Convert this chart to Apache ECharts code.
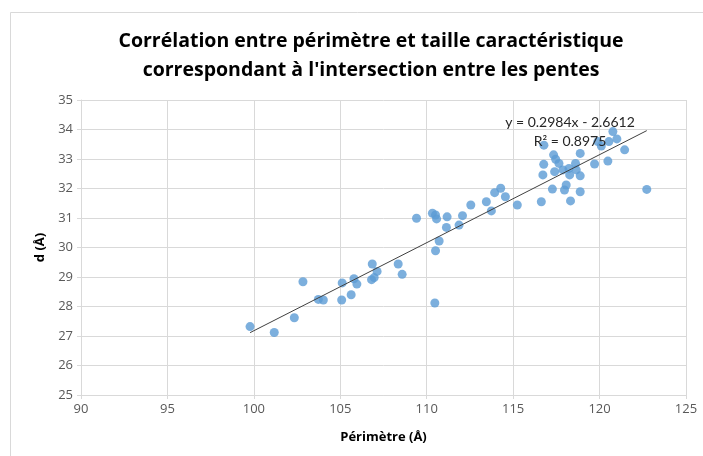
<!DOCTYPE html>
<html>
<head>
<meta charset="utf-8">
<script src="https://cdn.jsdelivr.net/npm/echarts@6/dist/echarts.min.js"></script>
<style>
  html, body { margin: 0; padding: 0; background: #ffffff; }
  #chart { width: 703px; height: 456px; }
</style>
</head>
<body>
<div id="chart"></div>
<script>
// Périmètre (Å) of each sample
const perimetre = [
  99.78, 101.18, 102.34, 102.84, 103.73, 104.02, 105.08, 105.11, 105.63, 105.79,
  105.96, 106.85, 106.81, 106.96, 107.13, 108.35, 108.58, 109.41, 110.33, 110.51,
  110.57, 111.18, 111.14, 110.72, 110.51, 110.47, 111.87, 112.07, 112.55, 113.45,
  113.74, 113.93, 114.28, 114.55, 115.24, 116.63, 116.78, 116.77, 116.72, 117.27,
  117.34, 117.46, 117.65, 117.40, 117.88, 118.23, 118.27, 118.07, 117.97, 118.32,
  118.61, 118.65, 118.88, 118.88, 118.88, 119.71, 119.90, 120.10, 120.54, 120.48,
  120.77, 121.00, 121.45, 122.73
];
// Taille caractéristique d (Å)
const taille = [
  27.32, 27.12, 27.62, 28.84, 28.24, 28.22, 28.22, 28.80, 28.40, 28.94,
  28.76, 29.44, 28.91, 28.98, 29.19, 29.44, 29.09, 30.99, 31.16, 31.10,
  30.97, 31.04, 30.68, 30.22, 29.89, 28.12, 30.76, 31.08, 31.44, 31.55,
  31.24, 31.86, 32.01, 31.72, 31.44, 31.55, 33.47, 32.82, 32.46, 31.98,
  33.14, 32.99, 32.85, 32.57, 32.63, 32.68, 32.46, 32.12, 31.95, 31.58,
  32.85, 32.63, 33.19, 32.43, 31.89, 32.83, 33.59, 33.44, 33.59, 32.93,
  33.93, 33.68, 33.31, 31.97
];
// Linear trendline: d = pente * P + origine
const pente = 0.2984;
const origine = -2.6612;
const r2 = 0.8975;
// Axis ranges and tick steps
const xTicks = { min: 90, max: 125, step: 5 };
const yTicks = { min: 25, max: 35, step: 1 };

const points = perimetre.map((p, i) => [p, taille[i]]);
const pMin = Math.min(...perimetre);
const pMax = Math.max(...perimetre);
const trend = [pMin, pMax].map(p => [p, pente * p + origine]);

const labelFont = "'Open Sans', 'Liberation Sans', sans-serif";
const eqFont = "Lato, 'Open Sans', sans-serif";
const equation = 'y = ' + pente.toFixed(4) + 'x - ' + Math.abs(origine).toFixed(4);
const r2Text = 'R² = ' + r2.toFixed(4);

const chart = echarts.init(document.getElementById('chart'));
chart.setOption({
  backgroundColor: '#ffffff',
  animation: false,
  title: {
    text: "Corrélation entre périmètre et taille caractéristique\ncorrespondant à l'intersection entre les pentes",
    left: 366,
    textAlign: 'center',
    top: 22,
    textStyle: {
      fontFamily: labelFont,
      fontWeight: 'bold',
      fontSize: 19.5,
      lineHeight: 29,
      color: '#000000'
    }
  },
  graphic: [
    {
      type: 'rect',
      shape: { x: 10.5, y: 12.5, width: 720, height: 460 },
      style: { fill: 'none', stroke: '#d9d9d9', lineWidth: 1 },
      silent: true,
      z: -1
    },
    {
      type: 'text',
      x: 570, y: 122,
      style: { text: equation, font: '14px ' + eqFont, fill: '#262626', align: 'center', verticalAlign: 'middle' },
      z: 10
    },
    {
      type: 'text',
      x: 570, y: 141,
      style: { text: r2Text, font: '14px ' + eqFont, fill: '#262626', align: 'center', verticalAlign: 'middle' },
      z: 10
    }
  ],
  grid: { left: 81, right: 17, top: 100, bottom: 61 },
  xAxis: {
    type: 'value',
    min: xTicks.min,
    max: xTicks.max,
    interval: xTicks.step,
    name: 'Périmètre (Å)',
    nameLocation: 'middle',
    nameGap: 36,
    nameTextStyle: { fontFamily: labelFont, fontWeight: 'bold', fontSize: 13, color: '#000000' },
    axisLine: { lineStyle: { color: '#d9d9d9' } },
    axisTick: { show: true, length: 4, lineStyle: { color: '#d9d9d9' } },
    axisLabel: { fontFamily: labelFont, fontSize: 13, color: '#595959', margin: 8 },
    splitLine: { show: true, lineStyle: { color: '#d9d9d9' } }
  },
  yAxis: {
    type: 'value',
    min: yTicks.min,
    max: yTicks.max,
    interval: yTicks.step,
    name: 'd (Å)',
    nameLocation: 'middle',
    nameGap: 32,
    nameRotate: 90,
    nameTextStyle: { fontFamily: labelFont, fontWeight: 'bold', fontSize: 13, color: '#000000' },
    axisLine: { show: true, lineStyle: { color: '#d9d9d9' } },
    axisTick: { show: true, length: 4, lineStyle: { color: '#d9d9d9' } },
    axisLabel: { fontFamily: labelFont, fontSize: 13, color: '#595959', margin: 8 },
    splitLine: { show: true, lineStyle: { color: '#d9d9d9' } }
  },
  series: [
    {
      type: 'line',
      data: trend,
      symbol: 'none',
      lineStyle: { color: '#404040', width: 1 },
      z: 3,
      silent: true
    },
    {
      type: 'scatter',
      data: points,
      symbol: 'circle',
      symbolSize: 9,
      itemStyle: { color: '#5b9bd5' },
      z: 2
    }
  ]
});
</script>
</body>
</html>
